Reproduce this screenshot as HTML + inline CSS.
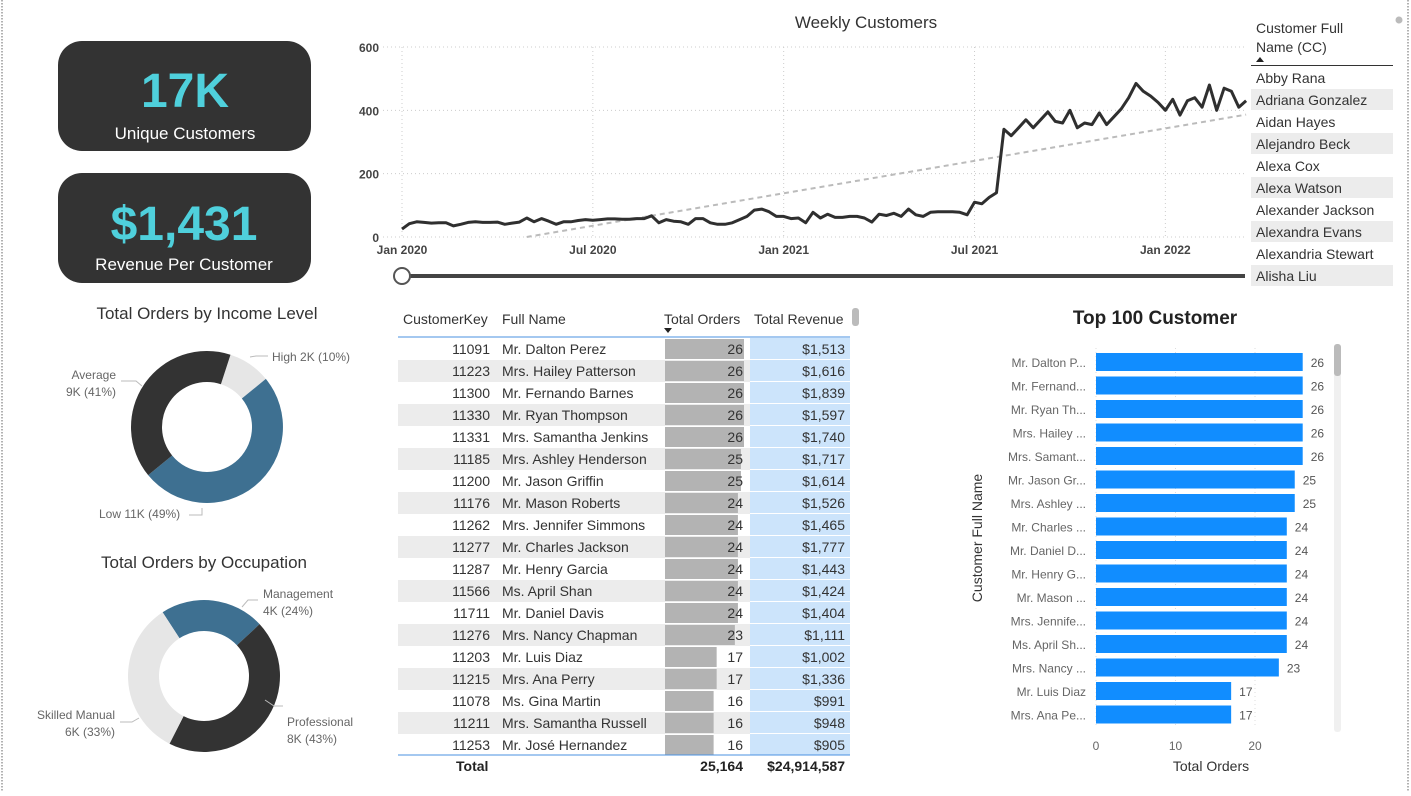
<!DOCTYPE html>
<html><head><meta charset="utf-8"><style>
html,body{margin:0;padding:0;background:#fff;}
body{width:1411px;height:791px;overflow:hidden;font-family:"Liberation Sans","DejaVu Sans",sans-serif;}
svg text{font-family:"Liberation Sans","DejaVu Sans",sans-serif;}
</style></head><body>
<svg id="s" width="1411" height="791" viewBox="0 0 1411 791" xmlns="http://www.w3.org/2000/svg">
<line x1="2" y1="0" x2="2" y2="791" stroke="#666" stroke-dasharray="1.5,1.5"/>
<line x1="1408" y1="0" x2="1408" y2="791" stroke="#666" stroke-dasharray="1.5,1.5"/>
<g>
<rect x="58" y="41" width="253" height="110" rx="24" fill="#333"/>
<text x="185" y="107" text-anchor="middle" font-size="48" font-weight="bold" fill="#4fd0dc">17K</text>
<text x="185" y="139" text-anchor="middle" font-size="17" fill="#fff">Unique Customers</text>
</g>
<g>
<rect x="58" y="173" width="253" height="110" rx="24" fill="#333"/>
<text x="184" y="240" text-anchor="middle" font-size="48" font-weight="bold" fill="#4fd0dc">$1,431</text>
<text x="184" y="270" text-anchor="middle" font-size="17" fill="#fff">Revenue Per Customer</text>
</g>
<g id="line"></g>
<g id="donuts"></g>
<g id="table"></g>
<g id="bars"></g>
<g id="slicer"></g>
</svg>
<script>
// ---- Weekly customers data ----
const weekValues = [25,42,48,46,44,45,45,35,40,46,48,46,46,47,40,44,47,60,48,58,50,40,48,48,52,55,53,55,57,57,56,56,58,58,67,45,55,50,48,40,58,58,45,40,40,45,55,65,85,88,80,65,65,58,60,45,78,60,72,62,62,65,65,60,47,72,68,75,65,88,70,65,78,80,80,80,78,70,110,105,125,140,340,320,345,370,345,370,395,365,360,400,345,360,355,392,355,380,405,440,485,460,445,425,400,435,385,430,440,410,480,400,470,460,410,430];
const yTicks = [0,200,400,600];
const xTickLabels = ["Jan 2020","Jul 2020","Jan 2021","Jul 2021","Jan 2022"];
const xTickWeeks = [0,26,52,78,104];
// ---- Donut data ----
const incomeLabels = ["High","Low","Average"];
const incomeValues = [2,11,9];
const incomePct = [10,49,41];
const occLabels = ["Management","Professional","Skilled Manual"];
const occValues = [4,8,6];
const occPct = [24,43,33];
// ---- Table data ----
const custKeys = [11091,11223,11300,11330,11331,11185,11200,11176,11262,11277,11287,11566,11711,11276,11203,11215,11078,11211,11253];
const custNames = ["Mr. Dalton Perez","Mrs. Hailey Patterson","Mr. Fernando Barnes","Mr. Ryan Thompson","Mrs. Samantha Jenkins","Mrs. Ashley Henderson","Mr. Jason Griffin","Mr. Mason Roberts","Mrs. Jennifer Simmons","Mr. Charles Jackson","Mr. Henry Garcia","Ms. April Shan","Mr. Daniel Davis","Mrs. Nancy Chapman","Mr. Luis Diaz","Mrs. Ana Perry","Ms. Gina Martin","Mrs. Samantha Russell","Mr. José Hernandez"];
const custOrders = [26,26,26,26,26,25,25,24,24,24,24,24,24,23,17,17,16,16,16];
const custRevenue = ["$1,513","$1,616","$1,839","$1,597","$1,740","$1,717","$1,614","$1,526","$1,465","$1,777","$1,443","$1,424","$1,404","$1,111","$1,002","$1,336","$991","$948","$905"];
// ---- Bar chart data ----
const barNames = ["Mr. Dalton P...","Mr. Fernand...","Mr. Ryan Th...","Mrs. Hailey ...","Mrs. Samant...","Mr. Jason Gr...","Mrs. Ashley ...","Mr. Charles ...","Mr. Daniel D...","Mr. Henry G...","Mr. Mason ...","Mrs. Jennife...","Ms. April Sh...","Mrs. Nancy ...","Mr. Luis Diaz","Mrs. Ana Pe..."];
const barValues = [26,26,26,26,26,25,25,24,24,24,24,24,24,23,17,17];
const barTicks = [0,10,20];
// ---- Slicer ----
const slicerNames = ["Abby Rana","Adriana Gonzalez","Aidan Hayes","Alejandro Beck","Alexa Cox","Alexa Watson","Alexander Jackson","Alexandra Evans","Alexandria Stewart","Alisha Liu"];

const NS="http://www.w3.org/2000/svg";
function mk(parent,tag,attrs,txt){const e=document.createElementNS(NS,tag);for(const k in attrs)e.setAttribute(k,attrs[k]);if(txt!==undefined)e.textContent=txt;parent.appendChild(e);return e;}

// Line chart
(function(){
const g=document.getElementById('line');
const xs=w=>402+w*7.34, ys=v=>237-v*190/600;
let t=mk(g,'text',{x:866,y:28,'text-anchor':'middle','font-size':17,fill:'#333'},'Weekly Customers');


yTicks.forEach(v=>{
 let l=mk(g,'line',{x1:383,x2:1245,y1:ys(v),y2:ys(v),stroke:'#ccc','stroke-dasharray':'1,3'});
 
 
 let tx=mk(g,'text',{x:379,y:ys(v)+5,'text-anchor':'end','font-size':12,'font-weight':'bold',fill:'#444'},v);
 
 
});
xTickWeeks.forEach((w,i)=>{
 let l=mk(g,'line',{x1:xs(w),x2:xs(w),y1:47,y2:237,stroke:'#ccc','stroke-dasharray':'1,3'});
 
 
 let tx=mk(g,'text',{x:xs(w),y:254,'text-anchor':'middle','font-size':12,'font-weight':'bold',fill:'#444'},xTickLabels[i]);
 
 
});
// trend (least squares)
const n=weekValues.length;let sx=0,sy=0,sxy=0,sxx=0;
weekValues.forEach((v,i)=>{sx+=i;sy+=v;sxy+=i*v;sxx+=i*i;});
const b=(n*sxy-sx*sy)/(n*sxx-sx*sx),a=(sy-b*sx)/n;
const w0=Math.max(0,-a/b);
let tr=mk(g,'line',{x1:xs(w0),y1:ys(a+b*w0),x2:xs(n-1),y2:ys(a+b*(n-1)),stroke:'#bbb','stroke-width':2,'stroke-dasharray':'5,4'});


let d=weekValues.map((v,i)=>(i?'L':'M')+xs(i).toFixed(1)+','+ys(v).toFixed(1)).join('');
let p=mk(g,'path',{d:d,fill:'none',stroke:'#2f2f2f','stroke-width':3,'stroke-linejoin':'round'});


let sl=mk(g,'line',{x1:402,x2:1245,y1:276,y2:276,stroke:'#444','stroke-width':4});


let h=mk(g,'circle',{cx:402,cy:276,r:8,fill:'#fff',stroke:'#555','stroke-width':2});


})();

// Donuts
(function(){
const g=document.getElementById('donuts');
const colors1=['#e6e6e6','#3e7091','#333333'];
const colors2=['#3e7091','#333333','#e6e6e6'];
function donut(cx,cy,vals,cols,startDeg,name){
 const tot=vals.reduce((a,b)=>a+b,0);let ang=startDeg;const R=76,r=45;
 vals.forEach((v,i)=>{
  const a0=ang*Math.PI/180,a1=(ang+v/tot*360)*Math.PI/180;ang+=v/tot*360;
  const P=(rad,a)=>[cx+rad*Math.sin(a),cy-rad*Math.cos(a)];
  const lg=(a1-a0)>Math.PI?1:0;
  const [x0,y0]=P(R,a0),[x1,y1]=P(R,a1),[x2,y2]=P(r,a1),[x3,y3]=P(r,a0);
  let s=mk(g,'path',{d:`M${x0},${y0}A${R},${R} 0 ${lg} 1 ${x1},${y1}L${x2},${y2}A${r},${r} 0 ${lg} 0 ${x3},${y3}Z`,fill:cols[i]});
  
  
 });
}
function lbl(x,y,lines,anchor,name){lines.forEach((s,i)=>{let t=mk(g,'text',{x:x,y:y+i*17,'text-anchor':anchor,'font-size':12,fill:'#666'},s);});}
let t1=mk(g,'text',{x:207,y:319,'text-anchor':'middle','font-size':17,fill:'#333'},'Total Orders by Income Level');


donut(207,427,incomeValues,colors1,18,'income');
lbl(272,361,[incomeLabels[0]+' '+incomeValues[0]+'K ('+incomePct[0]+'%)'],'start','income-label-high');
lbl(116,379,[incomeLabels[2],incomeValues[2]+'K ('+incomePct[2]+'%)'],'end','income-label-average');
lbl(99,518,[incomeLabels[1]+' '+incomeValues[1]+'K ('+incomePct[1]+'%)'],'start','income-label-low');
mk(g,'path',{d:'M250,357 L256,356 L268,356',stroke:'#bbb',fill:'none'});
mk(g,'path',{d:'M121,381 L136,381 L142,386',stroke:'#bbb',fill:'none'});
mk(g,'path',{d:'M189,515 L202,515 L202,508',stroke:'#bbb',fill:'none'});
let t2=mk(g,'text',{x:204,y:568,'text-anchor':'middle','font-size':17,fill:'#333'},'Total Orders by Occupation');


donut(204,676,occValues,colors2,-33,'occupation');
lbl(263,598,[occLabels[0],occValues[0]+'K ('+occPct[0]+'%)'],'start','occupation-label-management');
lbl(287,726,[occLabels[1],occValues[1]+'K ('+occPct[1]+'%)'],'start','occupation-label-professional');
lbl(115,719,[occLabels[2],occValues[2]+'K ('+occPct[2]+'%)'],'end','occupation-label-skilled');
mk(g,'path',{d:'M242,607 L248,600 L258,600',stroke:'#bbb',fill:'none'});
mk(g,'path',{d:'M265,700 L274,706 L283,706',stroke:'#bbb',fill:'none'});
mk(g,'path',{d:'M120,722 L132,722 L139,718',stroke:'#bbb',fill:'none'});
})();

// Table
(function(){
const g=document.getElementById('table');
const hdr=[['CustomerKey',403,'start'],['Full Name',502,'start'],['Total Orders',664,'start'],['Total Revenue',754,'start']];
hdr.forEach(h=>{let t=mk(g,'text',{x:h[1],y:324,'text-anchor':h[2],'font-size':14,fill:'#333'},h[0]);});
mk(g,'path',{d:'M664,328 L672,328 L668,333Z',fill:'#222'});
mk(g,'rect',{x:852,y:308,width:7,height:18,rx:3,fill:'#bbb'});
mk(g,'line',{x1:398,x2:850,y1:337,y2:337,stroke:'#4a90e2','stroke-width':1});
const rowY=i=>338+i*22, os=v=>v*79/26;
custKeys.forEach((k,i)=>{
 const y=rowY(i);
 let r=mk(g,'rect',{x:398,y:y,width:266,height:22,fill:i%2?'#ececec':'#fff'});
 
 
 mk(g,'rect',{x:664,y:y,width:86,height:22,fill:i%2?'#ececec':'#fff'});
 mk(g,'rect',{x:750,y:y,width:100,height:22,fill:'#cce4fb'});
 mk(g,'line',{x1:750,x2:850,y1:y+21.5,y2:y+21.5,stroke:'#fff'});
 let b=mk(g,'rect',{x:665,y:y+1,width:os(custOrders[i]),height:20,fill:'#b3b3b3'});
 
 
 mk(g,'text',{x:490,y:y+16,'text-anchor':'end','font-size':14,fill:'#333'},k);
 mk(g,'text',{x:502,y:y+16,'font-size':14,fill:'#333'},custNames[i]);
 mk(g,'text',{x:743,y:y+16,'text-anchor':'end','font-size':14,fill:'#333'},custOrders[i]);
 mk(g,'text',{x:845,y:y+16,'text-anchor':'end','font-size':14,fill:'#333'},custRevenue[i]);
});
mk(g,'line',{x1:398,x2:850,y1:755,y2:755,stroke:'#4a90e2'});
let tt=mk(g,'text',{x:456,y:771,'font-size':14,'font-weight':'bold',fill:'#222'},'Total');


mk(g,'text',{x:743,y:771,'text-anchor':'end','font-size':14,'font-weight':'bold',fill:'#222'},'25,164');
mk(g,'text',{x:845,y:771,'text-anchor':'end','font-size':14,'font-weight':'bold',fill:'#222'},'$24,914,587');
})();

// Bar chart
(function(){
const g=document.getElementById('bars');
const xs=v=>1096+v*7.95, yc=i=>362+i*23.5;
let t=mk(g,'text',{x:1155,y:324,'text-anchor':'middle','font-size':19,'font-weight':'bold',fill:'#222'},'Top 100 Customer');


barTicks.forEach(v=>{
 mk(g,'line',{x1:xs(v),x2:xs(v),y1:348,y2:727,stroke:'#ddd','stroke-dasharray':'1,3'});
 let tx=mk(g,'text',{x:xs(v),y:750,'text-anchor':'middle','font-size':12,fill:'#666'},v);
 
 
});
barValues.forEach((v,i)=>{
 let b=mk(g,'rect',{x:xs(0),y:yc(i)-9,width:xs(v)-xs(0),height:18,fill:'#118dff'});
 
 
 mk(g,'text',{x:xs(v)+8,y:yc(i)+5,'font-size':12,fill:'#555'},v);
 let l=mk(g,'text',{x:1086,y:yc(i)+5,'text-anchor':'end','font-size':12,fill:'#666'},barNames[i]);
 
 
});
let xt=mk(g,'text',{x:1211,y:771,'text-anchor':'middle','font-size':14,fill:'#333'},'Total Orders');


let yt=mk(g,'text',{x:0,y:0,'text-anchor':'middle','font-size':14,fill:'#333',transform:'translate(982,538) rotate(-90)'},'Customer Full Name');


mk(g,'rect',{x:1334,y:344,width:7,height:388,rx:3,fill:'#f0f0f0'});
let sb=mk(g,'rect',{x:1334,y:344,width:7,height:32,rx:3,fill:'#bbb'});


})();

// Slicer
(function(){
const g=document.getElementById('slicer');
mk(g,'text',{x:1256,y:33,'font-size':14,fill:'#333'},'Customer Full');
let h=mk(g,'text',{x:1256,y:52,'font-size':14,fill:'#333'},'Name (CC)');


mk(g,'path',{d:'M1256,62 L1264,62 L1260,57Z',fill:'#222'});
mk(g,'line',{x1:1251,x2:1393,y1:65.5,y2:65.5,stroke:'#333'});
mk(g,'circle',{cx:1399,cy:20,r:3.5,fill:'#bbb'});
slicerNames.forEach((n,i)=>{
 const y=67+i*22;
 if(i%2) mk(g,'rect',{x:1251,y:y,width:142,height:21,fill:'#ececec'});
 let t=mk(g,'text',{x:1256,y:y+16,'font-size':14,fill:'#333'},n);
 
 
});
})();
</script>
</body></html>
